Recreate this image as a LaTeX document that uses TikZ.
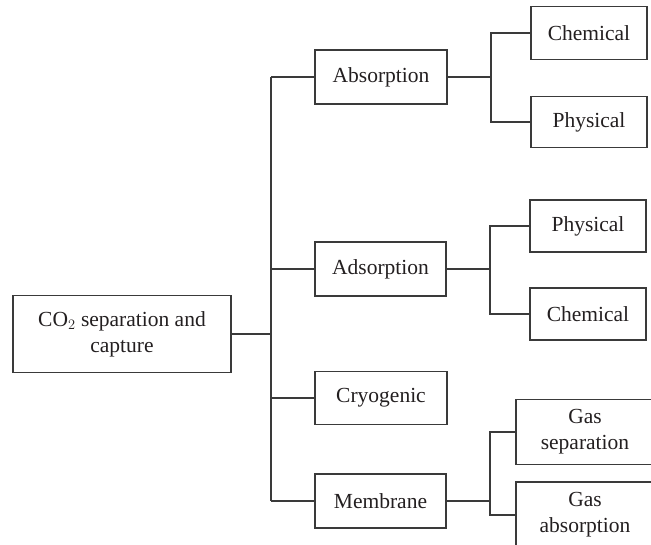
\documentclass[tikz,border=0pt]{standalone}
\usepackage{fontspec}
\setmainfont{Liberation Serif}
\usepackage{xcolor}
\usepackage{tikz}
\definecolor{inkgray}{HTML}{3A3A3A}
\definecolor{txt}{HTML}{231F20}

\begin{document}
\begin{tikzpicture}[x=1pt,y=-1pt,
    box/.style={draw=inkgray,line width=1.5pt,text=txt,align=center,inner sep=0pt,
        font=\fontsize{21.5}{26}\selectfont},
    link/.style={draw=inkgray,line width=1.5pt}]
\useasboundingbox (0,0) rectangle (651,544);
\clip (0,0) rectangle (651,544);

% main box
\node[box,minimum width=218pt,minimum height=77pt] (capture) at (122,334)
    {CO$_2$ separation and\\capture};

% methods
\node[box,minimum width=132pt,minimum height=54pt] (absorption) at (381,77) {Absorption};
\node[box,minimum width=131pt,minimum height=54pt] (adsorption) at (380.5,269) {Adsorption};
\node[box,minimum width=132pt,minimum height=53pt] (cryogenic) at (381,398) {Cryogenic};
\node[box,minimum width=131pt,minimum height=54pt] (membrane) at (380.5,501) {Membrane};

% sub-types
\node[box,minimum width=116pt,minimum height=53pt] (abschem) at (589,33) {Chemical};
\node[box,minimum width=116pt,minimum height=51pt] (absphys) at (589,122) {Physical};
\node[box,minimum width=116pt,minimum height=52pt] (adsphys) at (588,226) {Physical};
\node[box,minimum width=116pt,minimum height=52pt] (adschem) at (588,314) {Chemical};
\node[box,minimum width=138pt,minimum height=65pt] (gassep) at (585,432) {Gas\\separation};
\node[box,minimum width=138pt,minimum height=66pt] (gasabs) at (585,515) {Gas\\absorption};

% trunk and forks
\coordinate (trunk) at (271,0);
\coordinate (forkabs) at (491,77);
\coordinate (forkads) at (490,269);
\coordinate (forkmem) at (490,501);

\draw[link] (capture.east) -- (capture.east -| trunk);
\draw[link] (absorption.west -| trunk) -- (membrane.west -| trunk);
\foreach \m in {absorption,adsorption,cryogenic,membrane}
    \draw[link] (\m.west) -- (\m.west -| trunk);

\draw[link] (absorption.east) -- (forkabs);
\draw[link] (abschem.west) -| (forkabs) |- (absphys.west);
\draw[link] (adsorption.east) -- (forkads);
\draw[link] (adsphys.west) -| (forkads) |- (adschem.west);
\draw[link] (membrane.east) -- (forkmem);
\draw[link] (gassep.west) -| (forkmem) |- (gasabs.west);
\end{tikzpicture}
\end{document}
